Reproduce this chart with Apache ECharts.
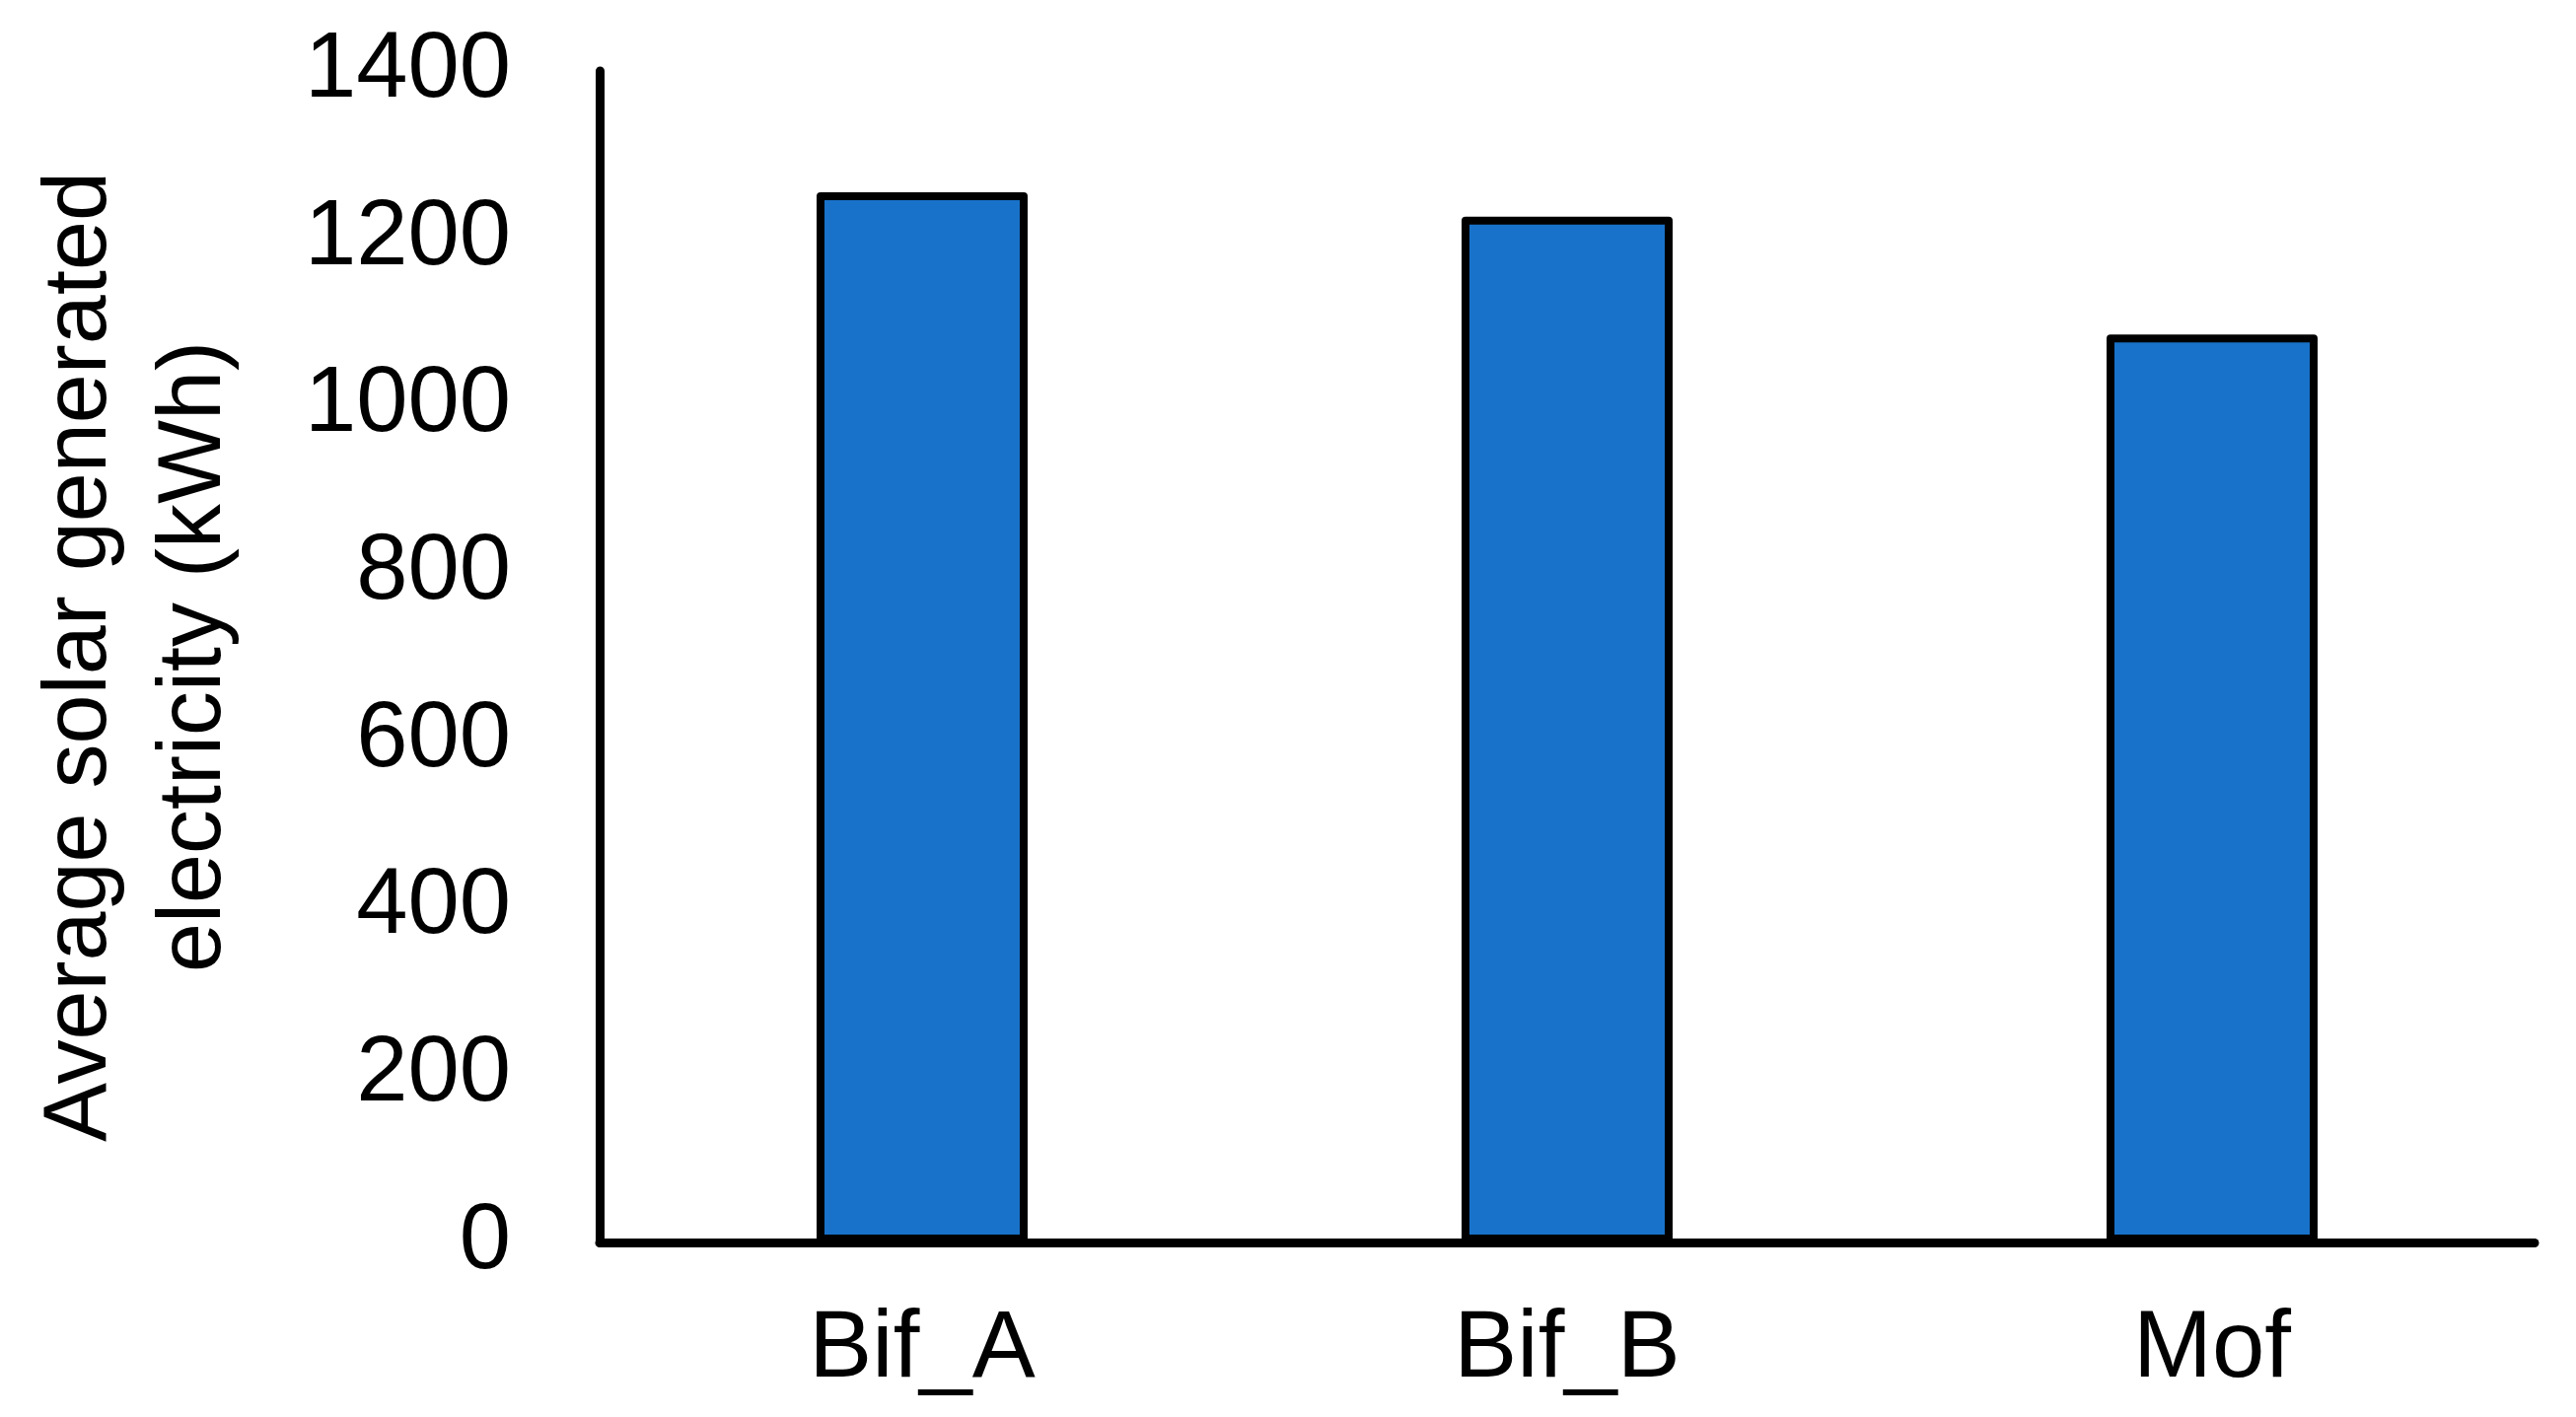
<!DOCTYPE html>
<html>
<head>
<meta charset="utf-8">
<script src="https://cdn.jsdelivr.net/npm/echarts@6/dist/echarts.min.js"></script>
<style>
  html, body { margin: 0; padding: 0; background: #fff; }
  #chart { width: 2612px; height: 1437px; }
</style>
</head>
<body>
<div id="chart"></div>
<script>
  // data
  const categories = ['Bif_A', 'Bif_B', 'Mof'];
  const electricity = [1255, 1226, 1085];
  const yTicks = [0, 200, 400, 600, 800, 1000, 1200, 1400];

  const font = 'Liberation Sans, Arial, sans-serif';

  const option = {
    animation: false,
    backgroundColor: '#fff',
    grid: {
      left: 608,
      right: 42,
      top: 72,
      bottom: 177,
      containLabel: false,
      outerBoundsMode: 'none'
    },
    xAxis: {
      type: 'category',
      data: categories,
      axisLine: {
        lineStyle: { color: '#000', width: 9, cap: 'round' }
      },
      axisTick: { show: false },
      axisLabel: {
        color: '#000',
        fontFamily: font,
        fontSize: 96,
        margin: 62
      }
    },
    yAxis: {
      type: 'value',
      min: yTicks[0],
      max: yTicks[yTicks.length - 1],
      interval: 200,
      name: 'Average solar generated\nelectricity (kWh)',
      nameLocation: 'middle',
      nameRotate: 90,
      nameGap: 352,
      nameTextStyle: {
        color: '#000',
        fontFamily: font,
        fontSize: 90,
        lineHeight: 116
      },
      axisLine: {
        show: true,
        lineStyle: { color: '#000', width: 9, cap: 'round' }
      },
      axisTick: { show: false },
      splitLine: { show: false },
      axisLabel: {
        color: '#000',
        fontFamily: font,
        fontSize: 94,
        margin: 90,
        formatter: function (v) { return String(v); }
      }
    },
    series: [
      {
        type: 'bar',
        data: electricity,
        barWidth: 214,
        itemStyle: {
          color: '#1872c9',
          borderColor: '#000',
          borderWidth: 8,
          borderJoin: 'round'
        }
      }
    ]
  };

  echarts.init(document.getElementById('chart')).setOption(option);
</script>
</body>
</html>
